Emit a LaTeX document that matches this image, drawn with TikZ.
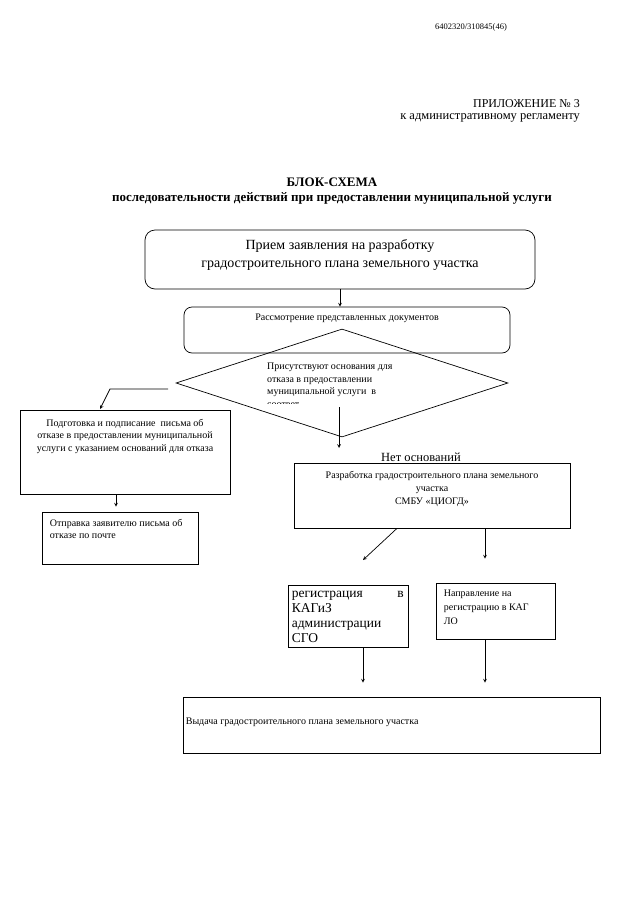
\documentclass[tikz,border=0pt]{standalone}
\usepackage{fontspec}
\setmainfont{Liberation Serif}
\usepackage{tikz}
\usetikzlibrary{shapes,arrows}
\usetikzlibrary{positioning}
\usetikzlibrary{shapes.geometric}

\begin{document}
\begin{tikzpicture}[x=1pt,y=-1pt,
  box/.style={draw,line width=0.7pt,inner sep=0pt},
  rbox/.style={box,rounded corners=8pt},
  txt/.style={inner sep=0pt,font=\fontsize{10}{12.5}\selectfont},
  arr/.style={->,>=stealth,line width=0.7pt}]
\useasboundingbox (0,0) rectangle (640,905);
% header
\node[txt,font=\fontsize{8.5}{10}\selectfont] (docno) at (471,27) {6402320/310845(46)};
\node[txt,anchor=east,font=\fontsize{12}{14}\selectfont] (annex) at (580,104) {ПРИЛОЖЕНИЕ № 3};
\node[txt,anchor=east,font=\fontsize{12.5}{14}\selectfont] (annexsub) at (580,118) {к административному регламенту};
\node[txt,font=\fontsize{13}{15}\selectfont\bfseries] (title) at (332,182) {БЛОК-СХЕМА};
\node[txt,font=\fontsize{13}{15}\selectfont\bfseries] (subtitle) at (332,198) {последовательности действий при предоставлении муниципальной услуги};
% boxes
\node[rbox,rounded corners=10pt,minimum width=390,minimum height=59] (intake) at (340,259.5) {};
\node[txt,font=\fontsize{14}{18}\selectfont,align=center,below=10pt of intake.north] (intaketxt) {Прием заявления на разработку\\градостроительного плана земельного участка};
\node[rbox,minimum width=326,minimum height=46] (review) at (347,330) {};
\node[txt,below=7pt of review.north] (reviewtxt) {Рассмотрение представленных документов};
\node[box,diamond,minimum width=332,minimum height=108] (cond) at (342,383) {};
\begin{scope}
\clip (250,355) rectangle (430,403.5);
\node[txt,anchor=north west,align=left] (condtxt) at (267,363) {Присутствуют основания для\\отказа в предоставлении\\муниципальной услуги\ \ в\\соответ};
\end{scope}
\node[box,minimum width=210,minimum height=84] (refuse) at (125,452) {};
\node[txt,align=center,below=9pt of refuse.north] (refusetxt) {Подготовка и подписание\ \ письма об\\отказе в предоставлении муниципальной\\услуги с указанием оснований для отказа};
\node[box,minimum width=156,minimum height=52] (sendout) at (120,538) {};
\node[txt,align=left,below right=7pt and 8pt of sendout.north west] (sendouttxt) {Отправка заявителю письма об\\отказе по почте};
\node[txt,font=\fontsize{12.5}{14}\selectfont] (noground) at (421,457) {Нет оснований};
\node[box,minimum width=276,minimum height=65] (plan) at (432,495.5) {};
\node[txt,font=\fontsize{10}{13}\selectfont,align=center,below=8pt of plan.north] (plantxt) {Разработка градостроительного плана земельного\\участка\\СМБУ «ЦИОГД»};
\node[box,minimum width=120,minimum height=62] (regsgo) at (348,616) {};
\node[txt,font=\fontsize{13.5}{15}\selectfont,text width=112,align=left,below right=6pt and 4pt of regsgo.north west] (regsgotxt) {регистрация\hfill в\\КАГиЗ\\администрации\\СГО};
\node[box,minimum width=119,minimum height=56] (regkag) at (495.5,611) {};
\node[txt,font=\fontsize{10}{14}\selectfont,align=left,below right=7pt and 8pt of regkag.north west] (regkagtxt) {Направление на\\регистрацию в КАГ\\ЛО};
\node[box,minimum width=417,minimum height=56] (issue) at (391.5,725) {};
\node[txt,anchor=west,below right=21pt and 3pt of issue.north west] (issuetxt) {Выдача градостроительного плана земельного участка};
% connectors
\coordinate (condout) at (339,407);
\coordinate (condend) at (339,448);
\coordinate (leftstart) at (168,389);
\coordinate (leftbend) at (110,389);
\coordinate (leftend) at (100,409);
\coordinate (diagend) at (363,560);
\draw[arr] (intake.south) -- (review.north -| intake.south);
\draw[arr] (condout) -- (condend);
\draw[arr] (leftstart) -- (leftbend) -- (leftend);
\draw[arr,shorten >=5pt] ([xshift=-9pt]refuse.south) -- ([xshift=-9pt]refuse.south |- sendout.north);
\draw[arr] ([xshift=-35pt]plan.south) -- (diagend);
\draw[arr,shorten >=24pt] ([xshift=53pt]plan.south) -- ([xshift=53pt]plan.south |- regkag.north);
\draw[arr,shorten >=14pt] ([xshift=15pt]regsgo.south) -- ([xshift=15pt]regsgo.south |- issue.north);
\draw[arr,shorten >=14pt] ([xshift=-10.5pt]regkag.south) -- ([xshift=-10.5pt]regkag.south |- issue.north);
\end{tikzpicture}
\end{document}
